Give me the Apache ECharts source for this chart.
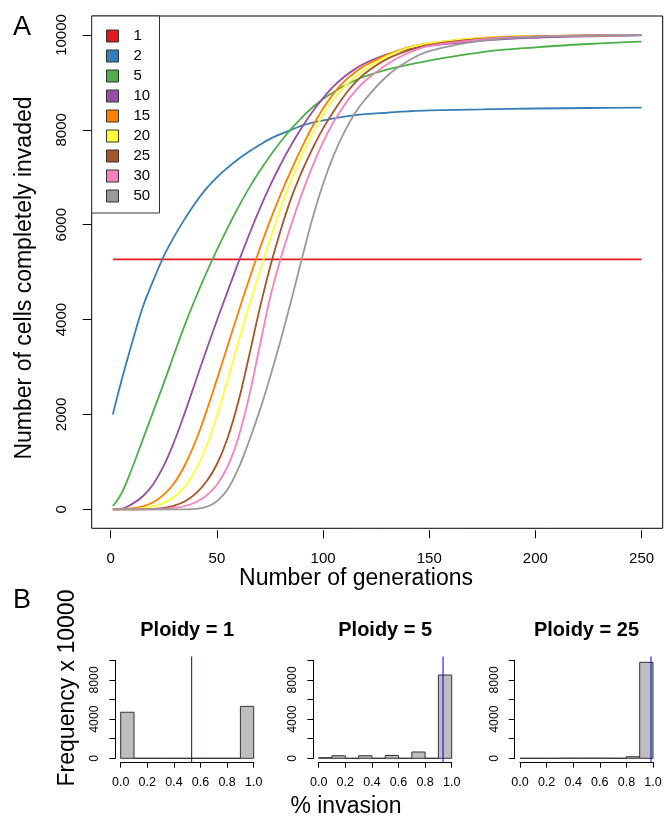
<!DOCTYPE html>
<html>
<head>
<meta charset="utf-8">
<script src="https://cdn.jsdelivr.net/npm/echarts@6/dist/echarts.min.js"></script>
<style>
html, body { margin: 0; padding: 0; background: #fff; }
#chart { width: 667px; height: 818px; }
</style>
</head>
<body>
<div id="chart"></div>
<script>
// ---- data: panel A, cells completely invaded per generation ----
const generations = [1, 5, 10, 15, 20, 25, 30, 35, 40, 45, 50, 55, 60, 65, 70, 75, 80, 85, 90, 95, 100, 105, 110, 115, 120, 130, 140, 150, 175, 200, 225, 250];
const ploidy = ['1', '2', '5', '10', '15', '20', '25', '30', '50'];

const invaded_p1 = [5270, 5270, 5270, 5270, 5270, 5270, 5270, 5270, 5270, 5270, 5270, 5270, 5270, 5270, 5270, 5270, 5270, 5270, 5270, 5270, 5270, 5270, 5270, 5270, 5270, 5270, 5270, 5270, 5270, 5270, 5270, 5270];
const invaded_p2 = [2000, 2700, 3500, 4250, 4820, 5340, 5760, 6130, 6470, 6760, 7000, 7200, 7380, 7540, 7680, 7810, 7910, 8000, 8090, 8150, 8200, 8240, 8280, 8310, 8330, 8360, 8390, 8410, 8430, 8450, 8460, 8470];
const invaded_p5 = [70, 330, 860, 1460, 2060, 2660, 3290, 3900, 4460, 4980, 5470, 5930, 6360, 6760, 7120, 7450, 7750, 8020, 8260, 8470, 8650, 8800, 8930, 9040, 9130, 9270, 9370, 9460, 9640, 9740, 9810, 9860];
const invaded_p10 = [0, 10, 110, 270, 530, 920, 1440, 2050, 2700, 3350, 3980, 4590, 5190, 5770, 6320, 6820, 7270, 7680, 8050, 8380, 8670, 8920, 9120, 9280, 9410, 9590, 9700, 9770, 9880, 9940, 9970, 9990];
const invaded_p15 = [0, 5, 20, 60, 150, 310, 560, 940, 1440, 2060, 2740, 3440, 4140, 4820, 5470, 6080, 6640, 7150, 7630, 8070, 8450, 8770, 9020, 9210, 9360, 9580, 9740, 9830, 9940, 9980, 9990, 10000];
const invaded_p20 = [0, 0, 5, 25, 65, 135, 265, 485, 835, 1325, 1965, 2725, 3505, 4265, 4985, 5685, 6345, 6935, 7455, 7915, 8315, 8645, 8905, 9115, 9285, 9550, 9730, 9830, 9940, 9980, 9990, 10000];
const invaded_p25 = [0, 0, 0, 0, 10, 30, 80, 170, 330, 580, 950, 1500, 2250, 3200, 4200, 5100, 5880, 6560, 7120, 7600, 8030, 8390, 8720, 8990, 9200, 9490, 9670, 9790, 9920, 9970, 9990, 10000];
const invaded_p30 = [0, 0, 0, 0, 0, 10, 30, 70, 150, 290, 520, 900, 1500, 2350, 3400, 4450, 5280, 6000, 6650, 7230, 7740, 8170, 8520, 8810, 9040, 9380, 9620, 9770, 9910, 9970, 9990, 10000];
const invaded_p50 = [0, 0, 0, 0, 0, 0, 0, 0, 10, 50, 170, 420, 850, 1420, 2060, 2780, 3560, 4400, 5280, 6130, 6860, 7460, 7950, 8350, 8650, 9130, 9450, 9660, 9880, 9960, 9985, 9995];
const invaded = [invaded_p1, invaded_p2, invaded_p5, invaded_p10, invaded_p15, invaded_p20, invaded_p25, invaded_p30, invaded_p50];

// Set1 palette
const palette = ['#E41A1C', '#377EB8', '#4DAF4A', '#984EA3', '#FF7F00', '#FFFF33', '#A65628', '#F781BF', '#999999'];

// ---- data: panel B, histograms of % invasion ----
const binStart = [0, 0.1, 0.2, 0.3, 0.4, 0.5, 0.6, 0.7, 0.8, 0.9];
const binWidth = 0.1;
const hist_p1 = [4700, 0, 0, 0, 0, 0, 0, 0, 0, 5300];
const hist_p5 = [60, 260, 0, 260, 0, 280, 0, 640, 0, 8500];
const hist_p25 = [0, 0, 0, 10, 10, 10, 10, 5, 160, 9795];
const hists = [hist_p1, hist_p5, hist_p25];
const histTitles = ['Ploidy = 1', 'Ploidy = 5', 'Ploidy = 25'];
const histMeans = [0.533, 0.935, 0.985];

// ---- layout (R style plot regions, limits padded 4%) ----
const FONT = '"Liberation Sans", Arial, Helvetica, sans-serif';
const boxA = { left: 91.7, top: 16, width: 571, height: 512.3 };
const limA = { x: [-8.96, 259.96], y: [-400, 10400] };
const histX0 = [120.7, 318.7, 520];
const histUnit = 133;
const limB = { x: [-0.04, 1.04], y: [-400, 10400] };

function inner(box, lim, x0, x1, y0, y1) {
  const sx = box.width / (lim.x[1] - lim.x[0]);
  const sy = box.height / (lim.y[1] - lim.y[0]);
  return {
    left: box.left + (x0 - lim.x[0]) * sx,
    width: (x1 - x0) * sx,
    top: box.top + (lim.y[1] - y1) * sy,
    height: (y1 - y0) * sy
  };
}

const grid = [], xAxis = [], yAxis = [], series = [];

function addGrid(rect, extra) {
  grid.push(Object.assign({ outerBoundsMode: 'none', containLabel: false }, rect, extra || {}));
  return grid.length - 1;
}
function hiddenX(gi, min, max) {
  xAxis.push({ gridIndex: gi, type: 'value', min: min, max: max, show: false });
  return xAxis.length - 1;
}
function hiddenY(gi, min, max) {
  yAxis.push({ gridIndex: gi, type: 'value', min: min, max: max, show: false });
  return yAxis.length - 1;
}
const tickStyle = { color: '#000', width: 1 };
const labelBase = { color: '#000', fontFamily: FONT };

// R draws an axis only over its tick range: one small grid per axis
function bottomAxis(left, width, yLine, min, max, interval, opts) {
  const gi = addGrid({ left: left, width: width, top: yLine - 10, height: 10 });
  hiddenY(gi, 0, 1);
  xAxis.push(Object.assign({
    gridIndex: gi, type: 'value', min: min, max: max, interval: interval, position: 'bottom',
    splitLine: { show: false }
  }, opts));
}
function leftAxis(xLine, top, height, min, max, interval, opts) {
  const gi = addGrid({ left: xLine, width: 10, top: top, height: height });
  hiddenX(gi, 0, 1);
  yAxis.push(Object.assign({
    gridIndex: gi, type: 'value', min: min, max: max, interval: interval, position: 'left',
    splitLine: { show: false }
  }, opts));
}

// panel A: box + lines
const gA = addGrid(boxA, { show: true, borderColor: '#000', borderWidth: 1, backgroundColor: 'transparent' });
const xA = hiddenX(gA, limA.x[0], limA.x[1]);
const yA = hiddenY(gA, limA.y[0], limA.y[1]);
ploidy.forEach((p, k) => {
  series.push({
    name: p,
    type: 'line',
    xAxisIndex: xA,
    yAxisIndex: yA,
    data: generations.map((g, j) => [g, invaded[k][j]]),
    showSymbol: false,
    smooth: 0.4,
    color: palette[k],
    itemStyle: { color: palette[k] },
    lineStyle: { width: 1.8, color: palette[k] },
    z: 2
  });
});

const rA = inner(boxA, limA, 0, 250, 0, 10000);
bottomAxis(rA.left, rA.width, boxA.top + boxA.height + 2, 0, 250, 50, {
  axisLine: { show: false },
  axisTick: { show: true, length: 8, lineStyle: tickStyle },
  axisLabel: Object.assign({ fontSize: 15, margin: 21, formatter: v => String(v) }, labelBase)
});
leftAxis(boxA.left, rA.top, rA.height, 0, 10000, 2000, {
  axisLine: { show: false },
  axisTick: { show: true, length: 9, lineStyle: tickStyle },
  axisLabel: Object.assign({ fontSize: 15, margin: 22, rotate: 90, formatter: v => String(v) }, labelBase)
});

// panel B: three histograms
const graphics = [];
hists.forEach((h, i) => {
  const box = { left: histX0[i] - 0.04 * histUnit, top: 656.4, width: 1.08 * histUnit, height: 105.8 };
  const gP = addGrid(box);
  const xP = hiddenX(gP, limB.x[0], limB.x[1]);
  const yP = hiddenY(gP, limB.y[0], limB.y[1]);
  const r = inner(box, limB, 0, 1, 0, 10000);

  bottomAxis(r.left, r.width, box.top + box.height, 0, 1, 0.2, {
    axisLine: { show: true, lineStyle: tickStyle },
    axisTick: { show: true, length: 5.5, lineStyle: tickStyle },
    axisLabel: Object.assign({ fontSize: 12.5, margin: 13.5, formatter: v => v.toFixed(1) }, labelBase)
  });
  leftAxis(box.left, r.top, r.height, 0, 10000, 2000, {
    axisLine: { show: true, lineStyle: tickStyle },
    axisTick: { show: true, length: 6, lineStyle: tickStyle },
    axisLabel: Object.assign({ fontSize: 12.3, margin: 14.5, rotate: 90,
      formatter: v => (v % 4000 === 0 ? String(v) : '') }, labelBase)
  });

  series.push({
    type: 'custom',
    xAxisIndex: xP,
    yAxisIndex: yP,
    encode: { x: [0, 1], y: 2 },
    data: binStart.map((s, k) => [s, s + binWidth, h[k]]),
    renderItem: (params, api) => {
      const a = api.coord([api.value(0), api.value(2)]);
      const b = api.coord([api.value(1), 0]);
      return {
        type: 'rect',
        shape: { x: a[0], y: a[1], width: b[0] - a[0], height: b[1] - a[1] },
        style: { fill: '#BEBEBE', stroke: '#333', lineWidth: 1 }
      };
    },
    z: 2
  });
  // mean line across the whole plot region
  series.push({
    type: 'custom',
    xAxisIndex: xP,
    yAxisIndex: yP,
    data: [[histMeans[i], limB.y[1]]],
    renderItem: (params, api) => {
      const p0 = api.coord([api.value(0), limB.y[0]]);
      const p1 = api.coord([api.value(0), limB.y[1]]);
      return {
        type: 'line',
        shape: { x1: p0[0], y1: p0[1], x2: p1[0], y2: p1[1] },
        style: { stroke: 'rgba(0,0,255,0.85)', lineWidth: 1.2 }
      };
    },
    z: 3
  });
  graphics.push({
    type: 'text', x: box.left + box.width / 2, y: 630,
    style: { text: histTitles[i], fontSize: 20, fontWeight: 'bold', fontFamily: FONT, fill: '#000', align: 'center', verticalAlign: 'middle' }
  });
});

function label(text, x, y, size, rot) {
  return {
    type: 'text', x: x, y: y, rotation: rot || 0,
    style: { text: text, fontSize: size, fontFamily: FONT, fill: '#000', align: 'center', verticalAlign: 'middle' }
  };
}
graphics.push(
  label('A', 22, 28, 27),
  label('B', 22, 601, 27),
  label('Number of cells completely invaded', 25, 278, 23, Math.PI / 2),
  label('Number of generations', 356, 579, 23),
  label('Frequency x 10000', 68, 688, 23, Math.PI / 2),
  label('% invasion', 346, 807, 23)
);

const chart = echarts.init(document.getElementById('chart'));
chart.setOption({
  animation: false,
  backgroundColor: '#fff',
  grid: grid,
  xAxis: xAxis,
  yAxis: yAxis,
  legend: {
    orient: 'vertical',
    left: boxA.left,
    top: boxA.top,
    data: ploidy.map(p => ({ name: p, icon: 'rect' })),
    itemWidth: 12,
    itemHeight: 12,
    itemGap: 5,
    padding: [12.5, 9.3, 9.5, 14.3],
    borderColor: '#333',
    borderWidth: 1,
    borderRadius: 0,
    backgroundColor: '#fff',
    selectedMode: false,
    itemStyle: { borderColor: '#333', borderWidth: 1 },
    textStyle: { fontSize: 15, lineHeight: 15, fontFamily: FONT, color: '#000', padding: [0, 0, 0, 10] }
  },
  series: series,
  graphic: graphics
});

window.addEventListener('resize', () => {
  chart.resize();
});
</script>
</body>
</html>
